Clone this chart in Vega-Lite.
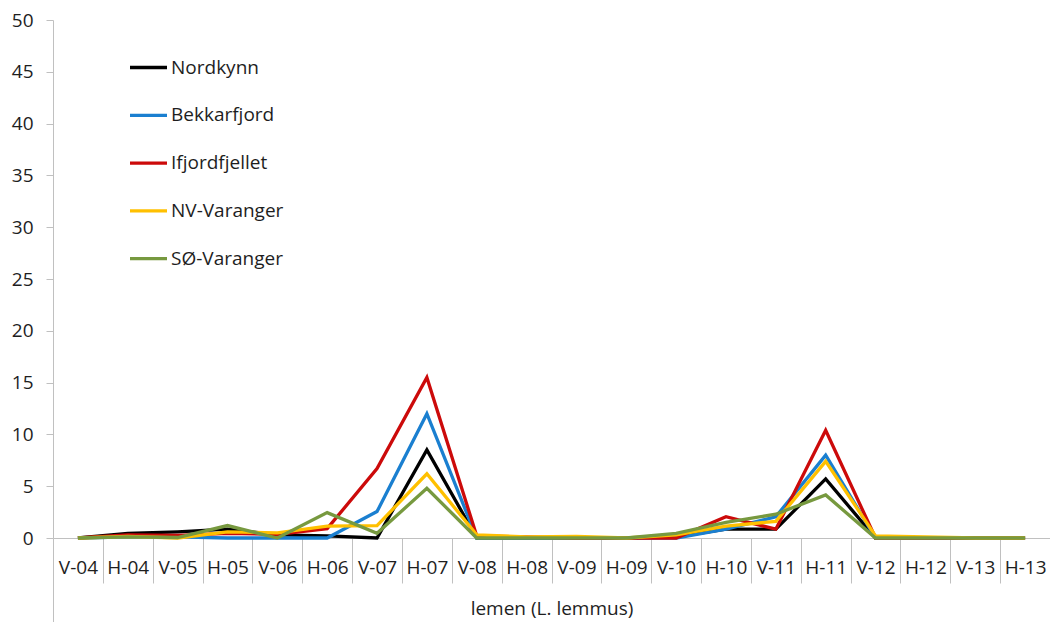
{
  "$schema": "https://vega.github.io/schema/vega-lite/v6.json",
  "width": 997,
  "height": 518,
  "autosize": {"type": "none"},
  "padding": {"left": 53, "top": 20, "right": 0, "bottom": 84},
  "background": "white",
  "config": {
    "view": {"stroke": null},
    "font": "Open Sans",
    "axis": {"labelFont": "Open Sans", "titleFont": "Open Sans", "labelColor": "#1e1e1e", "titleColor": "#1e1e1e", "titleFontWeight": "normal"}
  },
  "data": {
    "values": [
      {"period": "V-04", "site": "Nordkynn", "value": 0},
      {"period": "H-04", "site": "Nordkynn", "value": 0.45},
      {"period": "V-05", "site": "Nordkynn", "value": 0.6},
      {"period": "H-05", "site": "Nordkynn", "value": 0.85},
      {"period": "V-06", "site": "Nordkynn", "value": 0.3},
      {"period": "H-06", "site": "Nordkynn", "value": 0.2},
      {"period": "V-07", "site": "Nordkynn", "value": 0},
      {"period": "H-07", "site": "Nordkynn", "value": 8.5},
      {"period": "V-08", "site": "Nordkynn", "value": 0},
      {"period": "H-08", "site": "Nordkynn", "value": 0},
      {"period": "V-09", "site": "Nordkynn", "value": 0},
      {"period": "H-09", "site": "Nordkynn", "value": 0},
      {"period": "V-10", "site": "Nordkynn", "value": 0.1},
      {"period": "H-10", "site": "Nordkynn", "value": 0.85},
      {"period": "V-11", "site": "Nordkynn", "value": 0.85},
      {"period": "H-11", "site": "Nordkynn", "value": 5.7},
      {"period": "V-12", "site": "Nordkynn", "value": 0},
      {"period": "H-12", "site": "Nordkynn", "value": 0},
      {"period": "V-13", "site": "Nordkynn", "value": 0},
      {"period": "H-13", "site": "Nordkynn", "value": 0},

      {"period": "V-04", "site": "Bekkarfjord", "value": 0},
      {"period": "H-04", "site": "Bekkarfjord", "value": 0.1},
      {"period": "V-05", "site": "Bekkarfjord", "value": 0.1},
      {"period": "H-05", "site": "Bekkarfjord", "value": 0},
      {"period": "V-06", "site": "Bekkarfjord", "value": 0},
      {"period": "H-06", "site": "Bekkarfjord", "value": 0},
      {"period": "V-07", "site": "Bekkarfjord", "value": 2.55},
      {"period": "H-07", "site": "Bekkarfjord", "value": 12.0},
      {"period": "V-08", "site": "Bekkarfjord", "value": 0},
      {"period": "H-08", "site": "Bekkarfjord", "value": 0},
      {"period": "V-09", "site": "Bekkarfjord", "value": 0},
      {"period": "H-09", "site": "Bekkarfjord", "value": 0},
      {"period": "V-10", "site": "Bekkarfjord", "value": 0},
      {"period": "H-10", "site": "Bekkarfjord", "value": 0.85},
      {"period": "V-11", "site": "Bekkarfjord", "value": 2.05},
      {"period": "H-11", "site": "Bekkarfjord", "value": 8.0},
      {"period": "V-12", "site": "Bekkarfjord", "value": 0},
      {"period": "H-12", "site": "Bekkarfjord", "value": 0},
      {"period": "V-13", "site": "Bekkarfjord", "value": 0},
      {"period": "H-13", "site": "Bekkarfjord", "value": 0},

      {"period": "V-04", "site": "Ifjordfjellet", "value": 0},
      {"period": "H-04", "site": "Ifjordfjellet", "value": 0.3},
      {"period": "V-05", "site": "Ifjordfjellet", "value": 0.25},
      {"period": "H-05", "site": "Ifjordfjellet", "value": 0.45},
      {"period": "V-06", "site": "Ifjordfjellet", "value": 0.35},
      {"period": "H-06", "site": "Ifjordfjellet", "value": 0.9},
      {"period": "V-07", "site": "Ifjordfjellet", "value": 6.7},
      {"period": "H-07", "site": "Ifjordfjellet", "value": 15.5},
      {"period": "V-08", "site": "Ifjordfjellet", "value": 0.2},
      {"period": "H-08", "site": "Ifjordfjellet", "value": 0.1},
      {"period": "V-09", "site": "Ifjordfjellet", "value": 0},
      {"period": "H-09", "site": "Ifjordfjellet", "value": 0},
      {"period": "V-10", "site": "Ifjordfjellet", "value": 0},
      {"period": "H-10", "site": "Ifjordfjellet", "value": 2.05},
      {"period": "V-11", "site": "Ifjordfjellet", "value": 0.85},
      {"period": "H-11", "site": "Ifjordfjellet", "value": 10.4},
      {"period": "V-12", "site": "Ifjordfjellet", "value": 0},
      {"period": "H-12", "site": "Ifjordfjellet", "value": 0},
      {"period": "V-13", "site": "Ifjordfjellet", "value": 0},
      {"period": "H-13", "site": "Ifjordfjellet", "value": 0},

      {"period": "V-04", "site": "NV-Varanger", "value": 0},
      {"period": "H-04", "site": "NV-Varanger", "value": 0.15},
      {"period": "V-05", "site": "NV-Varanger", "value": 0},
      {"period": "H-05", "site": "NV-Varanger", "value": 0.6},
      {"period": "V-06", "site": "NV-Varanger", "value": 0.5},
      {"period": "H-06", "site": "NV-Varanger", "value": 1.15},
      {"period": "V-07", "site": "NV-Varanger", "value": 1.2},
      {"period": "H-07", "site": "NV-Varanger", "value": 6.2},
      {"period": "V-08", "site": "NV-Varanger", "value": 0.3},
      {"period": "H-08", "site": "NV-Varanger", "value": 0.1},
      {"period": "V-09", "site": "NV-Varanger", "value": 0.15},
      {"period": "H-09", "site": "NV-Varanger", "value": 0},
      {"period": "V-10", "site": "NV-Varanger", "value": 0.3},
      {"period": "H-10", "site": "NV-Varanger", "value": 1.15},
      {"period": "V-11", "site": "NV-Varanger", "value": 1.6},
      {"period": "H-11", "site": "NV-Varanger", "value": 7.4},
      {"period": "V-12", "site": "NV-Varanger", "value": 0.2},
      {"period": "H-12", "site": "NV-Varanger", "value": 0.1},
      {"period": "V-13", "site": "NV-Varanger", "value": 0},
      {"period": "H-13", "site": "NV-Varanger", "value": 0},

      {"period": "V-04", "site": "SØ-Varanger", "value": 0},
      {"period": "H-04", "site": "SØ-Varanger", "value": 0.1},
      {"period": "V-05", "site": "SØ-Varanger", "value": 0.05},
      {"period": "H-05", "site": "SØ-Varanger", "value": 1.2},
      {"period": "V-06", "site": "SØ-Varanger", "value": 0},
      {"period": "H-06", "site": "SØ-Varanger", "value": 2.45},
      {"period": "V-07", "site": "SØ-Varanger", "value": 0.45},
      {"period": "H-07", "site": "SØ-Varanger", "value": 4.8},
      {"period": "V-08", "site": "SØ-Varanger", "value": 0},
      {"period": "H-08", "site": "SØ-Varanger", "value": 0},
      {"period": "V-09", "site": "SØ-Varanger", "value": 0},
      {"period": "H-09", "site": "SØ-Varanger", "value": 0},
      {"period": "V-10", "site": "SØ-Varanger", "value": 0.45},
      {"period": "H-10", "site": "SØ-Varanger", "value": 1.5},
      {"period": "V-11", "site": "SØ-Varanger", "value": 2.3},
      {"period": "H-11", "site": "SØ-Varanger", "value": 4.15},
      {"period": "V-12", "site": "SØ-Varanger", "value": 0},
      {"period": "H-12", "site": "SØ-Varanger", "value": 0},
      {"period": "V-13", "site": "SØ-Varanger", "value": 0},
      {"period": "H-13", "site": "SØ-Varanger", "value": 0}
    ]
  },
  "mark": {"type": "line", "strokeWidth": 3.3, "strokeJoin": "miter"},
  "encoding": {
    "x": {
      "field": "period",
      "type": "ordinal",
      "sort": null,
      "scale": {"type": "band", "paddingInner": 0, "paddingOuter": 0},
      "axis": {
        "title": "lemen (L. lemmus)",
        "titleFontSize": 19,
        "titleY": 70,
        "titleBaseline": "middle",
        "labelAngle": 0,
        "labelFontSize": 19,
        "labelBaseline": "middle",
        "labelPadding": -16,
        "tickBand": "extent",
        "tickColor": "#c0c0c0",
        "tickWidth": 1,
        "tickSize": {"condition": {"test": "datum.extra", "value": 84}, "value": 45},
        "domainColor": "#c0c0c0",
        "domainWidth": 1,
        "grid": false
      }
    },
    "y": {
      "field": "value",
      "type": "quantitative",
      "scale": {"domain": [0, 50], "nice": false},
      "axis": {
        "title": null,
        "values": [0, 5, 10, 15, 20, 25, 30, 35, 40, 45, 50],
        "labelFontSize": 19,
        "labelPadding": 13,
        "tickSize": 7,
        "tickColor": "#c0c0c0",
        "domainColor": "#c0c0c0",
        "grid": false
      }
    },
    "color": {
      "field": "site",
      "type": "nominal",
      "scale": {
        "domain": ["Nordkynn", "Bekkarfjord", "Ifjordfjellet", "NV-Varanger", "SØ-Varanger"],
        "range": ["#000000", "#1a7fd0", "#cc0a0a", "#ffc000", "#77993f"]
      },
      "legend": {
        "title": null,
        "orient": "none",
        "legendX": 75,
        "legendY": 27,
        "symbolType": "stroke",
        "symbolSize": 1369,
        "symbolStrokeWidth": 3.3,
        "labelFontSize": 19,
        "labelColor": "#1e1e1e",
        "labelOffset": 2,
        "rowPadding": 16.8
      }
    }
  }
}
